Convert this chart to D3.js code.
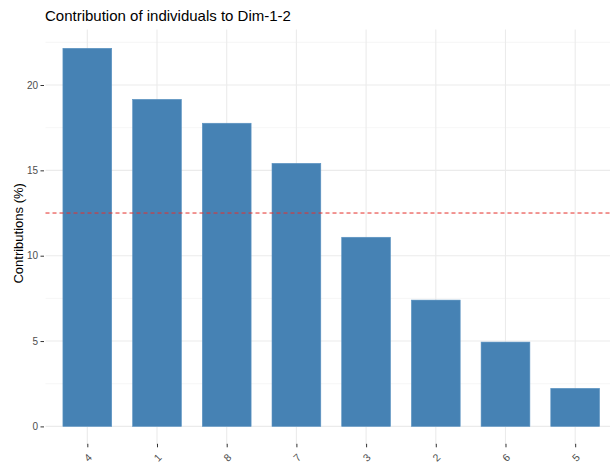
<!DOCTYPE html>
<html>
<head>
<meta charset="utf-8">
<script src="https://cdn.jsdelivr.net/npm/d3@7"></script>
<style>
  html, body { margin: 0; padding: 0; background: #fff; }
  svg { display: block; font-family: "Liberation Sans", Arial, sans-serif; }
</style>
</head>
<body>
<svg id="chart" width="610" height="464"></svg>
<script>
const categories = ["4", "1", "8", "7", "3", "2", "6", "5"];
const contributions = [22.15, 19.16, 17.76, 15.41, 11.08, 7.40, 4.94, 2.23];
const yTicks = [0, 5, 10, 15, 20];
const yMinor = [2.5, 7.5, 12.5, 17.5, 22.5];
const expectedValue = 12.5;
const title = "Contribution of individuals to Dim-1-2";
const yLabel = "Contributions (%)";

const svg = d3.select("#chart");
const panel = { left: 45.5, right: 617, top: 29.4, bottom: 445.3 };

const maxV = d3.max(contributions);
const pad = maxV * 0.05;
const y = d3.scaleLinear().domain([-pad, maxV + pad]).range([panel.bottom, panel.top]);

const n = categories.length;
const step = (panel.right - panel.left) / (n - 1 + 1.2);
const xCenter = d3.scalePoint().domain(categories)
  .range([panel.left + 0.6 * step, panel.right - 0.6 * step]);
const barW = step * 0.7;

// grid
const grid = svg.append("g");
grid.selectAll(".minor").data(yMinor).join("line")
  .attr("x1", panel.left).attr("x2", panel.right)
  .attr("y1", d => y(d)).attr("y2", d => y(d))
  .attr("stroke", "#f0f0f0").attr("stroke-width", 0.6);
grid.selectAll(".major").data(yTicks).join("line")
  .attr("x1", panel.left).attr("x2", panel.right)
  .attr("y1", d => y(d)).attr("y2", d => y(d))
  .attr("stroke", "#ebebeb").attr("stroke-width", 1.1);
grid.selectAll(".vmajor").data(categories).join("line")
  .attr("x1", d => xCenter(d)).attr("x2", d => xCenter(d))
  .attr("y1", panel.top).attr("y2", panel.bottom)
  .attr("stroke", "#ebebeb").attr("stroke-width", 1.1);

// bars
svg.append("g").selectAll("rect").data(categories).join("rect")
  .attr("x", d => xCenter(d) - barW / 2)
  .attr("width", barW)
  .attr("y", (d, i) => y(contributions[i]))
  .attr("height", (d, i) => y(0) - y(contributions[i]))
  .attr("fill", "#4682B4")
  .attr("stroke", "#5b93c2").attr("stroke-width", 0.6);

// reference line
svg.append("line")
  .attr("x1", panel.left).attr("x2", panel.right)
  .attr("y1", y(expectedValue)).attr("y2", y(expectedValue))
  .attr("stroke", "#e8302b").attr("stroke-width", 1)
  .attr("stroke-dasharray", "4,3");

// y axis
const yAxis = d3.axisLeft(y).tickValues(yTicks).tickSize(3.5).tickPadding(2.5);
const ya = svg.append("g").attr("transform", `translate(${panel.left - 1.5},0)`).call(yAxis);
ya.select(".domain").remove();
ya.selectAll(".tick line").attr("stroke", "#333").attr("stroke-width", 1);
ya.selectAll(".tick text").attr("fill", "#4d4d4d").style("font-size", "10px")
  .style("font-family", "Liberation Sans, Arial, sans-serif");

// x axis
const xAxis = d3.axisBottom(xCenter).tickSize(3.5).tickPadding(0);
const xa = svg.append("g").attr("transform", `translate(0,${panel.bottom - 1.5})`).call(xAxis);
xa.select(".domain").remove();
xa.selectAll(".tick line").attr("stroke", "#333").attr("stroke-width", 1);
xa.selectAll(".tick text")
  .attr("fill", "#4d4d4d").style("font-size", "10.5px")
  .style("font-family", "Liberation Sans, Arial, sans-serif")
  .attr("y", 0).attr("dy", null)
  .attr("text-anchor", "middle")
  .attr("dominant-baseline", "central")
  .attr("transform", "translate(0,13.5) rotate(-45)");

// titles
svg.append("text").attr("x", 45).attr("y", 21)
  .attr("fill", "#000").style("font-size", "15px").text(title);
svg.append("text")
  .attr("transform", `translate(23,${(panel.top + panel.bottom) / 2 - 4}) rotate(-90)`)
  .attr("text-anchor", "middle").attr("fill", "#000")
  .style("font-size", "13px").text(yLabel);
</script>
</body>
</html>
